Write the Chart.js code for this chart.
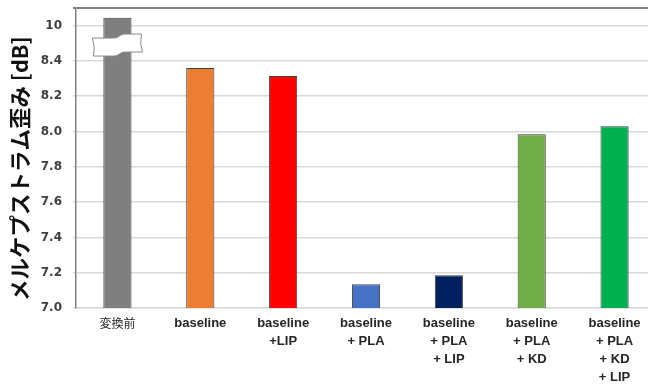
<!DOCTYPE html>
<html>
<head>
<meta charset="utf-8">
<script src="https://cdn.jsdelivr.net/npm/chart.js@4.4.1/dist/chart.umd.min.js"></script>
<style>
  html, body { margin: 0; padding: 0; background: #fff; overflow: hidden; }
  #wrap { width: 656px; height: 389px; }
</style>
</head>
<body>
<div id="wrap"><canvas id="myBarChart"></canvas></div>
<script>
// categories (x labels, multi-line)
const categories = [
    ['変換前'],
    ['baseline'],
    ['baseline', '+LIP'],
    ['baseline', '+ PLA'],
    ['baseline', '+ PLA', '+ LIP'],
    ['baseline', '+ PLA', '+ KD'],
    ['baseline', '+ PLA', '+ KD', '+ LIP']
];
// mel-cepstral distortion [dB]; first bar is drawn broken (real value ~10)
const values = [8.645, 8.36, 8.315, 7.135, 7.185, 7.985, 8.03];
const barColors = ['#7f7f7f', '#ed7d31', '#ff0000', '#4472c4', '#002060', '#70ad47', '#00b050'];
// y ticks: the top tick sits above the break and stands for 10
const yTickValues = [7.0, 7.2, 7.4, 7.6, 7.8, 8.0, 8.2, 8.4, 8.6];
const yTickLabels = ['7.0', '7.2', '7.4', '7.6', '7.8', '8.0', '8.2', '8.4', '10'];
const yMin = 7.0;
const yMax = 8.7;
const breakValue = 8.49;

// white wavy "break" mark across the first bar
const breakMark = {
    id: 'breakMark',
    afterDatasetsDraw(chart) {
        const bar = chart.getDatasetMeta(0).data[0];
        if (!bar) return;
        const ctx = chart.ctx;
        const cx = bar.x;
        const cy = chart.scales.y.getPixelForValue(breakValue);
        ctx.save();
        ctx.beginPath();
        ctx.moveTo(cx - 25, cy - 7);
        ctx.lineTo(cx - 4, cy - 7);
        ctx.bezierCurveTo(cx + 2, cy - 7, cx + 2, cy - 11, cx + 8, cy - 11);
        ctx.lineTo(cx + 24, cy - 11);
        ctx.quadraticCurveTo(cx + 22, cy - 1, cx + 25, cy + 7);
        ctx.lineTo(cx + 8, cy + 7);
        ctx.bezierCurveTo(cx + 2, cy + 7, cx + 2, cy + 11, cx - 4, cy + 11);
        ctx.lineTo(cx - 24, cy + 11);
        ctx.quadraticCurveTo(cx - 22, cy + 2, cx - 25, cy - 7);
        ctx.closePath();
        ctx.fillStyle = '#ffffff';
        ctx.fill();
        ctx.strokeStyle = '#8a8a8a';
        ctx.lineWidth = 1;
        ctx.stroke();
        ctx.restore();
    }
};

function createChartBar() {
    var ctxBar = document.getElementById('myBarChart');
    return new Chart(ctxBar, {
        type: 'bar',
        data: {
            labels: categories,
            datasets: [{
                data: values,
                backgroundColor: barColors,
                borderColor: '#404040',
                borderWidth: 1,
                borderSkipped: false,
                barPercentage: 0.34,
                categoryPercentage: 1
            }]
        },
        options: {
            responsive: true,
            maintainAspectRatio: false,
            animation: false,
            layout: { padding: { left: 0, right: 0, top: 8, bottom: 0 } },
            plugins: {
                legend: { display: false },
                tooltip: { enabled: false }
            },
            scales: {
                x: {
                    grid: { display: false, drawTicks: false },
                    border: { display: true, color: '#d9d9d9', width: 1.5 },
                    ticks: {
                        maxRotation: 0,
                        autoSkip: false,
                        padding: 6,
                        color: '#262626',
                        font: (c) => c.index === 0
                            ? { family: '"Noto Sans CJK JP", sans-serif', size: 12, weight: 'normal', lineHeight: '18px' }
                            : { family: '"Liberation Sans", Arial, sans-serif', size: 13, weight: 'bold', lineHeight: '18px' }
                    },
                    afterFit: (scale) => { scale.height = 81; }
                },
                y: {
                    min: yMin,
                    max: yMax,
                    afterBuildTicks: (scale) => {
                        scale.ticks = yTickValues.concat([yMax]).map(v => ({ value: v }));
                    },
                    afterFit: (scale) => {
                        scale.width = 76;
                        scale.paddingTop = 0;
                        scale.paddingBottom = 0;
                    },
                    grid: {
                        color: (c) => c.tick && c.tick.value === yMax ? '#808080' : '#d9d9d9',
                        lineWidth: (c) => c.tick && c.tick.value === yMax ? 2 : 1.5,
                        tickLength: 3
                    },
                    border: { display: true, color: '#808080', width: 1.5 },
                    ticks: {
                        padding: 11,
                        color: '#404040',
                        font: { family: '"DejaVu Sans", Verdana, sans-serif', size: 12, weight: 'bold' },
                        callback: (value) => {
                            const i = yTickValues.findIndex(t => Math.abs(t - value) < 1e-6);
                            return i >= 0 ? yTickLabels[i] : '';
                        }
                    },
                    title: {
                        display: true,
                        text: 'メルケプストラム歪み [dB]\u3000',
                        color: '#111',
                        padding: { top: 7, bottom: 0 },
                        font: { family: '"Noto Sans CJK JP", sans-serif', size: 21.5, weight: 'bold' }
                    }
                }
            }
        },
        plugins: [breakMark]
    });
}

createChartBar();
</script>
</body>
</html>
